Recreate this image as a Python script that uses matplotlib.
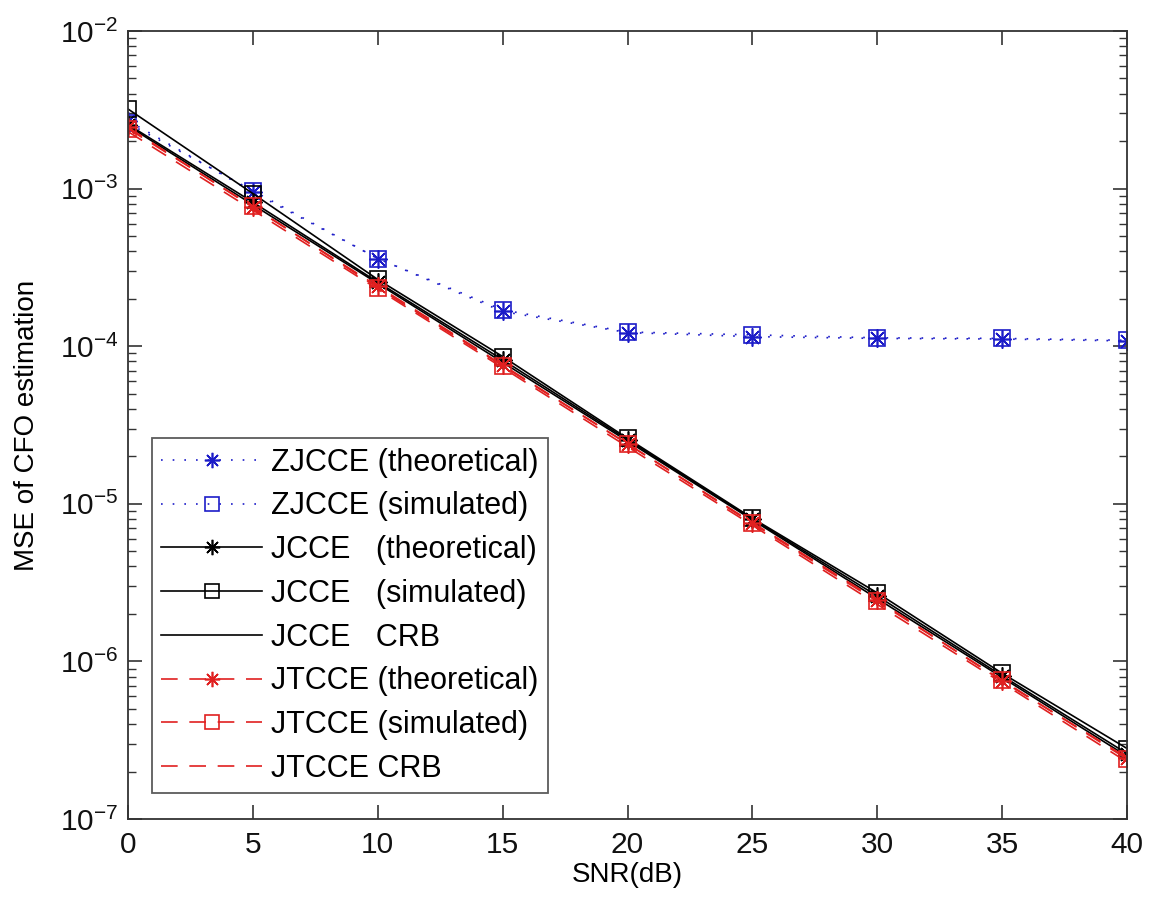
import matplotlib
matplotlib.use("Agg")
import matplotlib.pyplot as plt
from matplotlib.ticker import LogLocator, NullFormatter

plt.rcParams['font.family'] = ['Liberation Sans', 'DejaVu Sans']
plt.rcParams['mathtext.fontset'] = 'custom'
plt.rcParams['mathtext.rm'] = 'Liberation Sans'
plt.rcParams['mathtext.it'] = 'Liberation Sans:italic'
plt.rcParams['mathtext.bf'] = 'Liberation Sans:bold'

snr = [0, 5, 10, 15, 20, 25, 30, 35, 40]
zjcce_theo = [2.7e-3, 9.5e-4, 3.6e-4, 1.66e-4, 1.22e-4, 1.15e-4, 1.12e-4, 1.11e-4, 1.08e-4]
zjcce_sim = [2.6e-3, 9.7e-4, 3.6e-4, 1.7e-4, 1.23e-4, 1.18e-4, 1.13e-4, 1.12e-4, 1.09e-4]
jcce_theo = [2.55e-3, 8.2e-4, 2.55e-4, 8.2e-5, 2.55e-5, 8.0e-6, 2.6e-6, 8.1e-7, 2.6e-7]
jcce_sim = [3.2e-3, 9.3e-4, 2.65e-4, 8.6e-5, 2.6e-5, 8.1e-6, 2.72e-6, 8.4e-7, 2.8e-7]
jcce_crb = [2.5e-3, 7.9e-4, 2.5e-4, 7.9e-5, 2.5e-5, 7.9e-6, 2.5e-6, 7.9e-7, 2.5e-7]
jtcce_theo = [2.45e-3, 7.6e-4, 2.4e-4, 7.6e-5, 2.4e-5, 7.6e-6, 2.45e-6, 7.5e-7, 2.45e-7]
jtcce_sim = [2.4e-3, 7.7e-4, 2.35e-4, 7.5e-5, 2.4e-5, 7.5e-6, 2.4e-6, 7.6e-7, 2.4e-7]
jtcce_crb = [2.3e-3, 7.3e-4, 2.3e-4, 7.3e-5, 2.3e-5, 7.3e-6, 2.3e-6, 7.3e-7, 2.3e-7]

labels = ["ZJCCE (theoretical)", "ZJCCE (simulated)", "JCCE   (theoretical)",
          "JCCE   (simulated)", "JCCE   CRB", "JTCCE (theoretical)",
          "JTCCE (simulated)", "JTCCE CRB"]

fig = plt.figure(figsize=(11.55, 8.98), dpi=100)
ax = fig.add_axes([0.1108, 0.0880, 0.8650, 0.8775])

blue = '#1c1cc8'
red = '#e02020'
ast = (8, 2, 0)
dotted = (0, (1, 6))
dashed = (0, (10, 7))
lw = 1.2

ax.plot(snr, zjcce_theo, color=blue, linestyle=dotted, lw=lw, marker=ast, ms=13, mew=1.2, label=labels[0])
ax.plot(snr, zjcce_sim, color=blue, linestyle=dotted, lw=lw, marker='s', ms=12, mew=1.2, mfc='none', label=labels[1])
ax.plot(snr, jcce_theo, color='black', linestyle='-', lw=lw, marker=ast, ms=13, mew=1.2, label=labels[2])
ax.plot(snr, jcce_sim, color='black', linestyle='-', lw=lw, marker='s', ms=12, mew=1.2, mfc='none', label=labels[3])
ax.plot(snr, jcce_crb, color='black', linestyle='-', lw=lw, label=labels[4])
ax.plot(snr, jtcce_theo, color=red, linestyle=dashed, lw=lw, marker=ast, ms=13, mew=1.2, label=labels[5])
ax.plot(snr, jtcce_sim, color=red, linestyle=dashed, lw=lw, marker='s', ms=12, mew=1.2, mfc='none', label=labels[6])
ax.plot(snr, jtcce_crb, color=red, linestyle=dashed, lw=lw, label=labels[7])

ax.set_yscale('log')
ax.set_xlim(0, 40)
ax.set_ylim(1e-7, 1e-2)
ax.set_xticks(snr)
ax.yaxis.set_major_locator(LogLocator(base=10, numticks=10))
ax.yaxis.set_minor_locator(LogLocator(base=10, subs=range(2, 10), numticks=50))
ax.yaxis.set_minor_formatter(NullFormatter())

for s in ax.spines.values():
    s.set_linewidth(1.3)
    s.set_color('#333333')
ax.tick_params(which='major', direction='in', length=10, width=1.2, top=True, right=True,
               labelsize=21.5, pad=9, colors='#333333', labelcolor='#111111')
ax.tick_params(which='minor', direction='in', length=6, width=1.0, top=True, right=True, colors='#333333')
ax.tick_params(axis='y', which='major', pad=7)

ax.set_xlabel("SNR(dB)", fontsize=20)
ax.set_ylabel("MSE of CFO estimation", fontsize=20)
ax.xaxis.set_label_coords(0.5, -0.055)
ax.yaxis.set_label_coords(-0.088, 0.5)

leg = ax.legend(loc='lower left', bbox_to_anchor=(0.024, 0.033), fontsize=22,
                frameon=True, fancybox=False, borderpad=0.3, labelspacing=0.45,
                handlelength=3.3, handletextpad=0.3, borderaxespad=0.0, markerscale=0.85)
leg.get_frame().set_edgecolor('#333333')
leg.get_frame().set_linewidth(1.3)

fig.savefig("out.png", dpi=100)
